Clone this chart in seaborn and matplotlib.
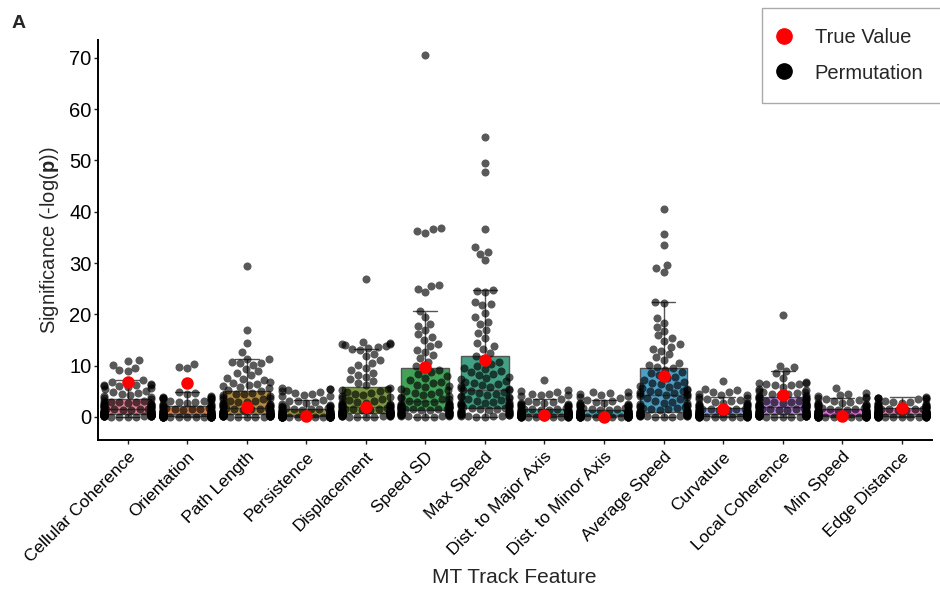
import warnings
warnings.filterwarnings("ignore")
import numpy as np
import pandas as pd
import matplotlib
matplotlib.use("Agg")
import matplotlib.pyplot as plt
from matplotlib.lines import Line2D
import seaborn as sns

features = ["Cellular Coherence", "Orientation", "Path Length", "Persistence",
            "Displacement", "Speed SD", "Max Speed", "Dist. to Major Axis",
            "Dist. to Minor Axis", "Average Speed", "Curvature",
            "Local Coherence", "Min Speed", "Edge Distance"]

true_values = [6.9, 6.6, 1.9, 0.2, 1.9, 9.8, 11.0, 0.4, 0.05, 8.0, 1.5, 4.3, 0.2, 1.8]

perm_cellular_coherence = [
    11.0, 10.9, 10.2, 9.6, 9.2, 8.9, 7.1, 6.9,
    6.4, 6.3, 6.2, 6.2, 6.1, 6.0, 5.9, 5.6, 5.4, 5.1, 4.9, 4.7, 4.5, 4.3, 4.1,
    3.9, 3.6, 3.4,
    3.2, 3.1, 3.0, 3.0, 2.9, 2.8, 2.7, 2.6, 2.6, 2.5, 2.4, 2.3, 2.2, 2.2, 2.1,
    2.0, 1.9, 1.9, 1.8, 1.7, 1.6, 1.6, 1.5, 1.5,
    1.4, 1.4, 1.3, 1.3, 1.2, 1.2, 1.1, 1.1, 1.0, 1.0, 0.9, 0.9, 0.9, 0.8, 0.8,
    0.8, 0.7, 0.7, 0.7, 0.6, 0.6, 0.6, 0.5, 0.5, 0.5,
    0.4, 0.4, 0.4, 0.4, 0.3, 0.3, 0.3, 0.3, 0.3, 0.2, 0.2, 0.2, 0.2, 0.2, 0.2,
    0.1, 0.1, 0.1, 0.1, 0.1, 0.1, 0.0, 0.0, 0.0, 0.0]

perm_orientation = [
    10.4, 9.7, 9.5,
    4.8, 4.6, 4.4, 4.0, 3.9, 3.8, 3.7, 3.7, 3.6, 3.5, 3.4, 3.3, 3.2, 3.1, 3.0,
    2.9, 2.8, 2.6, 2.5, 2.4, 2.3, 2.2,
    2.0, 1.9, 1.9, 1.8, 1.7, 1.7, 1.6, 1.5, 1.5, 1.4, 1.3, 1.3, 1.2, 1.1, 1.1,
    1.0, 1.0, 0.9, 0.9, 0.8, 0.8, 0.7, 0.7, 0.6, 0.6,
    0.5, 0.5, 0.5, 0.5, 0.5, 0.4, 0.4, 0.4, 0.4, 0.4, 0.3, 0.3, 0.3, 0.3, 0.3,
    0.3, 0.2, 0.2, 0.2, 0.2, 0.2, 0.2, 0.2, 0.1, 0.1, 0.1, 0.1, 0.1, 0.1, 0.1,
    0.1, 0.0, 0.0, 0.0, 0.0, 0.0, 0.0, 0.0, 0.0, 0.0, 0.0, 0.0, 0.0, 0.0, 0.0,
    0.0, 0.0, 0.0, 0.0, 0.0]

perm_path_length = [
    29.4, 17.0, 14.5, 12.6, 11.3, 11.2,
    10.8, 10.6, 10.5, 10.2, 9.4, 8.9, 8.5, 8.1, 7.6, 7.4, 7.2, 6.9, 6.6, 6.4,
    6.2, 6.0, 5.8, 5.6, 5.3, 5.0,
    4.7, 4.5, 4.4, 4.2, 4.0, 3.9, 3.7, 3.5, 3.4, 3.2, 3.1, 3.0, 2.9, 2.7, 2.6,
    2.5, 2.4, 2.3, 2.2, 2.1, 2.0, 1.9, 1.8, 1.7, 1.6,
    1.5, 1.5, 1.4, 1.3, 1.3, 1.2, 1.2, 1.1, 1.0, 1.0, 0.9, 0.9, 0.8, 0.8, 0.7,
    0.7, 0.7, 0.6, 0.6, 0.6, 0.5, 0.5, 0.5, 0.5,
    0.4, 0.4, 0.4, 0.4, 0.3, 0.3, 0.3, 0.3, 0.3, 0.2, 0.2, 0.2, 0.2, 0.2, 0.1,
    0.1, 0.1, 0.1, 0.1, 0.1, 0.0, 0.0, 0.0, 0.0, 0.0]

perm_persistence = [
    5.6, 5.5, 5.4, 5.2, 5.0, 4.8, 4.6, 4.5, 4.3, 4.1, 4.0,
    3.3, 3.2, 3.1, 3.0, 2.8, 2.6, 2.4, 2.2, 2.1, 2.0, 1.9, 1.8, 1.7, 1.7,
    1.6, 1.5, 1.5, 1.4, 1.3, 1.3, 1.2, 1.1, 1.1, 1.0, 1.0, 0.9, 0.9, 0.8, 0.8,
    0.7, 0.7, 0.6, 0.6, 0.6, 0.5, 0.5, 0.5, 0.4, 0.4,
    0.4, 0.4, 0.4, 0.3, 0.3, 0.3, 0.3, 0.3, 0.3, 0.2, 0.2, 0.2, 0.2, 0.2, 0.2,
    0.2, 0.2, 0.1, 0.1, 0.1, 0.1, 0.1, 0.1, 0.1, 0.1, 0.1, 0.1, 0.0, 0.0, 0.0,
    0.0, 0.0, 0.0, 0.0, 0.0, 0.0, 0.0, 0.0, 0.0, 0.0, 0.0, 0.0, 0.0, 0.0, 0.0,
    0.0, 0.0, 0.0, 0.0, 0.0]

perm_displacement = [
    26.9, 14.6, 14.4, 14.3, 14.2, 14.0, 13.8, 13.6, 13.4, 13.2, 13.0,
    12.2, 11.8, 11.0, 10.6, 10.1, 9.6, 9.1, 8.6, 8.2, 7.8, 7.4, 7.0, 6.6, 6.2,
    5.6, 5.5, 5.3, 5.1, 4.9, 4.7, 4.5, 4.3, 4.1, 3.9, 3.7, 3.5, 3.3, 3.1, 2.9,
    2.8, 2.7, 2.6, 2.5, 2.4, 2.3, 2.2, 2.1, 2.0, 1.9,
    1.8, 1.7, 1.7, 1.6, 1.5, 1.5, 1.4, 1.4, 1.3, 1.3, 1.2, 1.2, 1.1, 1.1, 1.1,
    1.0, 1.0, 1.0, 0.9, 0.9, 0.9, 0.9, 0.8, 0.8, 0.8,
    0.7, 0.7, 0.7, 0.6, 0.6, 0.6, 0.5, 0.5, 0.5, 0.4, 0.4, 0.4, 0.3, 0.3, 0.3,
    0.2, 0.2, 0.2, 0.1, 0.1, 0.1, 0.0, 0.0, 0.0, 0.0]

perm_speed_sd = [
    70.5, 36.9, 36.6, 36.2, 35.8, 25.8, 25.5, 25.0, 24.3,
    20.7, 19.5, 18.2, 17.8, 16.9, 16.1, 15.6, 15.0, 14.3, 13.9, 13.1, 12.6,
    12.0, 11.4, 10.8, 9.9,
    9.4, 9.2, 8.7, 8.3, 7.9, 7.6, 7.2, 6.9, 6.6, 6.3, 6.0, 5.8, 5.5, 5.3, 5.1,
    4.9, 4.7, 4.5, 4.3, 4.1, 3.9, 3.7, 3.5, 3.4, 3.2,
    3.0, 2.9, 2.8, 2.7, 2.6, 2.5, 2.4, 2.3, 2.2, 2.1, 2.0, 2.0, 1.9, 1.9, 1.8,
    1.8, 1.7, 1.7, 1.6, 1.6, 1.5, 1.5, 1.5, 1.4, 1.4,
    1.3, 1.2, 1.1, 1.0, 0.9, 0.9, 0.8, 0.8, 0.7, 0.7, 0.6, 0.6, 0.5, 0.5, 0.4,
    0.4, 0.3, 0.3, 0.2, 0.2, 0.1, 0.1, 0.0, 0.0, 0.0]

perm_max_speed = [
    54.6, 49.5, 47.8, 36.7, 33.1, 32.2, 31.8, 30.5,
    24.8, 24.6, 24.3, 22.4, 22.0, 21.8, 20.3, 19.5, 18.6, 18.2, 17.0, 16.3,
    15.4, 14.4, 13.8, 13.2, 12.4, 11.8,
    11.3, 10.8, 10.4, 10.0, 9.6, 9.3, 9.0, 8.7, 8.4, 8.1, 7.8, 7.5, 7.3, 7.0,
    6.8, 6.6, 6.4, 6.2, 6.0, 5.8, 5.6, 5.5, 5.3, 5.2,
    5.1, 4.9, 4.7, 4.5, 4.3, 4.1, 3.9, 3.8, 3.6, 3.5, 3.3, 3.2, 3.0, 2.9, 2.8,
    2.7, 2.6, 2.5, 2.4, 2.3, 2.2, 2.1, 2.0, 1.9, 1.8,
    1.7, 1.6, 1.5, 1.4, 1.3, 1.2, 1.1, 1.0, 1.0, 0.9, 0.8, 0.8, 0.7, 0.6, 0.6,
    0.5, 0.4, 0.4, 0.3, 0.2, 0.2, 0.1, 0.1, 0.0, 0.0]

perm_dist_major = [
    7.2, 5.3, 5.1, 4.9, 4.5, 4.4, 4.3, 4.2, 4.1,
    3.4, 3.2, 3.0, 2.9, 2.8, 2.7, 2.6, 2.5, 2.4, 2.3, 2.2, 2.1, 1.9, 1.8, 1.7,
    1.6,
    1.5, 1.5, 1.4, 1.4, 1.3, 1.3, 1.2, 1.2, 1.1, 1.1, 1.0, 1.0, 0.9, 0.9, 0.9,
    0.8, 0.8, 0.8, 0.7, 0.7, 0.7, 0.6, 0.6, 0.6, 0.5,
    0.5, 0.5, 0.5, 0.5, 0.4, 0.4, 0.4, 0.4, 0.4, 0.4, 0.3, 0.3, 0.3, 0.3, 0.3,
    0.3, 0.3, 0.3, 0.2, 0.2, 0.2, 0.2, 0.2, 0.2, 0.2, 0.2, 0.2, 0.2, 0.1, 0.1,
    0.1, 0.1, 0.1, 0.1, 0.1, 0.1, 0.1, 0.1, 0.0, 0.0, 0.0, 0.0, 0.0, 0.0, 0.0,
    0.0, 0.0, 0.0, 0.0, 0.0]

perm_dist_minor = [
    4.9, 4.8, 4.7, 4.4, 4.3, 4.1, 3.9, 3.7,
    3.3, 3.1, 3.0, 2.8, 2.7, 2.6, 2.5, 2.4, 2.3, 2.2, 2.1, 2.0, 1.9, 1.8, 1.7,
    1.6, 1.5,
    1.4, 1.4, 1.3, 1.3, 1.2, 1.2, 1.1, 1.1, 1.0, 1.0, 0.9, 0.9, 0.8, 0.8, 0.8,
    0.7, 0.7, 0.7, 0.6, 0.6, 0.5, 0.5, 0.5, 0.4, 0.4,
    0.4, 0.4, 0.4, 0.4, 0.3, 0.3, 0.3, 0.3, 0.3, 0.3, 0.3, 0.3, 0.2, 0.2, 0.2,
    0.2, 0.2, 0.2, 0.2, 0.2, 0.2, 0.2, 0.1, 0.1, 0.1, 0.1, 0.1, 0.1, 0.1, 0.1,
    0.1, 0.1, 0.1, 0.1, 0.0, 0.0, 0.0, 0.0, 0.0, 0.0, 0.0, 0.0, 0.0, 0.0, 0.0,
    0.0, 0.0, 0.0, 0.0, 0.0]

perm_average_speed = [
    40.5, 35.6, 33.5, 29.6, 29.0, 28.2,
    22.4, 22.2, 19.2, 18.4, 17.6, 16.8, 15.9, 15.3, 14.8, 14.2, 13.7, 13.3,
    12.8, 12.2, 11.6, 11.0, 10.6, 10.2, 9.8,
    9.5, 9.2, 8.8, 8.5, 8.1, 7.8, 7.5, 7.2, 6.9, 6.7, 6.4, 6.2, 6.0, 5.8, 5.6,
    5.4, 5.3, 5.1, 5.0, 4.9, 4.8, 4.6, 4.5, 4.4, 4.3,
    4.2, 4.0, 3.8, 3.6, 3.4, 3.2, 3.0, 2.8, 2.7, 2.5, 2.4, 2.2, 2.1, 2.0, 1.9,
    1.8, 1.7, 1.6, 1.5, 1.4, 1.3, 1.2, 1.1, 1.1, 1.0,
    0.9, 0.9, 0.8, 0.8, 0.7, 0.7, 0.6, 0.6, 0.5, 0.5, 0.5, 0.4, 0.4, 0.3, 0.3,
    0.3, 0.2, 0.2, 0.2, 0.1, 0.1, 0.1, 0.0, 0.0, 0.0]

perm_curvature = [
    7.0, 5.4, 5.3, 4.9, 4.8, 4.5, 4.3, 4.2,
    3.9, 3.7, 3.5, 3.4, 3.3, 3.1, 3.0, 2.8, 2.7, 2.6, 2.5, 2.4, 2.3, 2.2, 2.1,
    2.0, 1.8,
    1.7, 1.6, 1.6, 1.5, 1.5, 1.4, 1.4, 1.3, 1.3, 1.2, 1.2, 1.1, 1.1, 1.0, 1.0,
    0.9, 0.9, 0.8, 0.8, 0.7, 0.7, 0.6, 0.6, 0.5, 0.5,
    0.5, 0.5, 0.5, 0.4, 0.4, 0.4, 0.4, 0.4, 0.4, 0.3, 0.3, 0.3, 0.3, 0.3, 0.3,
    0.3, 0.3, 0.2, 0.2, 0.2, 0.2, 0.2, 0.2, 0.2, 0.2, 0.2, 0.2, 0.1, 0.1, 0.1,
    0.1, 0.1, 0.1, 0.1, 0.1, 0.1, 0.1, 0.1, 0.0, 0.0, 0.0, 0.0, 0.0, 0.0, 0.0,
    0.0, 0.0, 0.0, 0.0, 0.0]

perm_local_coherence = [
    19.8, 10.0, 9.7,
    9.0, 8.5, 7.6, 6.8, 6.7, 6.6, 6.5, 6.4, 6.3, 6.2, 5.8, 5.5, 5.2, 5.0, 4.9,
    4.8, 4.6, 4.5, 4.4, 4.3, 4.2, 4.0,
    3.9, 3.8, 3.7, 3.6, 3.5, 3.4, 3.3, 3.2, 3.1, 3.0, 2.9, 2.8, 2.7, 2.6, 2.5,
    2.5, 2.4, 2.3, 2.3, 2.2, 2.2, 2.1, 2.1, 2.0, 2.0,
    1.9, 1.8, 1.8, 1.7, 1.6, 1.6, 1.5, 1.4, 1.4, 1.3, 1.2, 1.2, 1.1, 1.0, 1.0,
    0.9, 0.9, 0.8, 0.8, 0.7, 0.7, 0.6, 0.6, 0.5, 0.5,
    0.4, 0.4, 0.4, 0.4, 0.4, 0.3, 0.3, 0.3, 0.3, 0.3, 0.2, 0.2, 0.2, 0.2, 0.2,
    0.1, 0.1, 0.1, 0.1, 0.1, 0.0, 0.0, 0.0, 0.0, 0.0]

perm_min_speed = [
    5.7, 4.6, 4.4, 4.3, 4.1, 3.9, 3.7, 3.6, 3.5,
    3.3, 3.1, 2.9, 2.8, 2.7, 2.6, 2.5, 2.4, 2.3, 2.2, 2.1, 2.0, 1.9, 1.8, 1.7,
    1.6,
    1.5, 1.4, 1.4, 1.3, 1.3, 1.2, 1.2, 1.1, 1.1, 1.0, 1.0, 0.9, 0.9, 0.8, 0.8,
    0.7, 0.7, 0.6, 0.6, 0.6, 0.5, 0.5, 0.5, 0.4, 0.4,
    0.4, 0.4, 0.4, 0.4, 0.3, 0.3, 0.3, 0.3, 0.3, 0.3, 0.3, 0.3, 0.2, 0.2, 0.2,
    0.2, 0.2, 0.2, 0.2, 0.2, 0.2, 0.2, 0.1, 0.1, 0.1, 0.1, 0.1, 0.1, 0.1, 0.1,
    0.1, 0.1, 0.1, 0.1, 0.0, 0.0, 0.0, 0.0, 0.0, 0.0, 0.0, 0.0, 0.0, 0.0, 0.0,
    0.0, 0.0, 0.0, 0.0, 0.0]

perm_edge_distance = [
    3.8, 3.7, 3.7, 3.6, 3.6, 3.5, 3.4,
    3.2, 3.0, 2.9, 2.8, 2.7, 2.6, 2.5, 2.4, 2.3, 2.2, 2.1, 2.0, 2.0, 1.9, 1.9,
    1.8, 1.8, 1.7,
    1.7, 1.6, 1.6, 1.5, 1.5, 1.4, 1.4, 1.3, 1.3, 1.2, 1.2, 1.1, 1.1, 1.0, 1.0,
    1.0, 0.9, 0.9, 0.9, 0.8, 0.8, 0.8, 0.7, 0.7, 0.7,
    0.6, 0.6, 0.6, 0.6, 0.6, 0.5, 0.5, 0.5, 0.5, 0.5, 0.4, 0.4, 0.4, 0.4, 0.4,
    0.4, 0.3, 0.3, 0.3, 0.3, 0.3, 0.3, 0.2, 0.2, 0.2, 0.2, 0.2, 0.2, 0.2, 0.1,
    0.1, 0.1, 0.1, 0.1, 0.1, 0.1, 0.1, 0.0, 0.0, 0.0, 0.0, 0.0, 0.0, 0.0, 0.0,
    0.0, 0.0, 0.0, 0.0, 0.0]

perm_lists = [perm_cellular_coherence, perm_orientation, perm_path_length,
              perm_persistence, perm_displacement, perm_speed_sd, perm_max_speed,
              perm_dist_major, perm_dist_minor, perm_average_speed,
              perm_curvature, perm_local_coherence, perm_min_speed,
              perm_edge_distance]

perm_df = pd.DataFrame({
    "feature": [f for f, vals in zip(features, perm_lists) for _ in vals],
    "value": [v for vals in perm_lists for v in vals],
})
true_df = pd.DataFrame({"feature": features, "value": true_values})

sns.set_style("white")
plt.rcParams["font.family"] = ["Liberation Sans", "DejaVu Sans"]
plt.rcParams["mathtext.fontset"] = "custom"
plt.rcParams["mathtext.rm"] = "Liberation Sans"
plt.rcParams["mathtext.bf"] = "Liberation Sans:bold"

fig = plt.figure(figsize=(9.4, 5.91), dpi=100)
ax = fig.add_axes([0.104, 0.2555, 0.887, 0.677])

palette = sns.color_palette("husl", len(features))
sns.boxplot(data=perm_df, x="feature", y="value", order=features, hue="feature",
            hue_order=features, palette=palette, showfliers=False, width=0.8,
            linewidth=1.0, linecolor="#555555", legend=False, ax=ax, zorder=1)
sns.swarmplot(data=perm_df, x="feature", y="value", order=features,
              color="black", alpha=0.65, size=5.8, ax=ax, zorder=3)
sns.stripplot(data=true_df, x="feature", y="value", order=features,
              color="red", size=9, jitter=False, ax=ax, zorder=5)

ax.set_xlim(-0.5, 13.5)
ax.set_ylim(-4.5, 73.5)
ax.set_yticks([0, 10, 20, 30, 40, 50, 60, 70])
ax.tick_params(axis="y", labelsize=14.5, length=3, width=1, colors="#222222",
               direction="out", left=True, pad=1.5)
ax.tick_params(axis="x", labelsize=12.5, length=3, width=1, colors="#222222",
               direction="out", bottom=True)
for lab in ax.get_yticklabels():
    lab.set_color("black")
ax.set_xticks(range(len(features)))
ax.set_xticklabels(features, rotation=45, ha="right", rotation_mode="anchor",
                   color="black")
ax.set_xlabel("MT Track Feature", fontsize=15, labelpad=2)
ax.set_ylabel(r"Significance (-log($\mathbf{p}$))", fontsize=14.5, labelpad=6)
for side in ["top", "right"]:
    ax.spines[side].set_visible(False)
for side in ["left", "bottom"]:
    ax.spines[side].set_color("black")
    ax.spines[side].set_linewidth(1.4)

handles = [Line2D([], [], marker="o", linestyle="", color="red", markersize=11),
           Line2D([], [], marker="o", linestyle="", color="black", markersize=11)]
leg = fig.legend(handles, ["True Value", "Permutation"], loc="upper left",
                 bbox_to_anchor=(0.811, 0.986), fontsize=14.5, frameon=True,
                 fancybox=False, edgecolor="#aaaaaa", framealpha=1,
                 labelspacing=0.8, handlelength=0.2, handletextpad=1.4,
                 borderpad=1.0, borderaxespad=0)

fig.text(0.012, 0.953, "A", fontsize=14, fontweight="bold")

fig.savefig("out.png", dpi=100)
